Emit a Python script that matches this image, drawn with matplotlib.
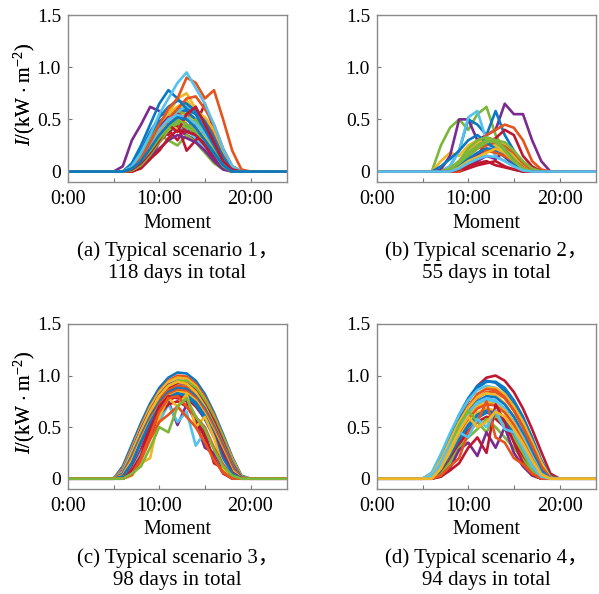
import numpy as np
import matplotlib
matplotlib.use("Agg")
import matplotlib.pyplot as plt

plt.rcParams['font.family'] = ['Liberation Serif', 'Noto Sans CJK SC']
plt.rcParams['mathtext.fontset'] = 'custom'
plt.rcParams['mathtext.rm'] = 'Liberation Serif'
plt.rcParams['mathtext.it'] = 'Liberation Serif:italic'

# hourly irradiance, kW/m2, hours 5:00 .. 19:00 (night hours are zero)
day_hours = list(range(5, 20))

scen1_days = [
    [0, .05, .30, .45, .62, .58, .50, .40, .35, .30, .20, .10, .03, 0, 0],
    [0, 0, .02, .10, .25, .40, .35, .55, .60, .45, .65, .40, .20, .05, 0],
    [0, 0, .04, .14, .28, .40, .50, .58, .55, .48, .35, .22, .08, 0, 0],
    [0, 0, .05, .15, .30, .45, .55, .70, .75, .60, .45, .28, .10, 0, 0],
    [0, 0, .02, .10, .20, .30, .38, .42, .40, .32, .22, .10, .03, 0, 0],
    [0, 0, .02, .08, .20, .30, .45, .50, .38, .42, .28, .15, .05, 0, 0],
    [0, 0, 0, .05, .15, .35, .40, .30, .45, .35, .25, .12, .03, 0, 0],
    [0, 0, .03, .10, .22, .38, .48, .55, .52, .62, .40, .25, .10, .02, 0],
    [0, 0, .03, .12, .25, .35, .30, .25, .35, .28, .18, .08, .02, 0, 0],
    [0, 0, .02, .10, .22, .32, .48, .60, .65, .55, .48, .30, .12, .02, 0],
    [0, 0, .05, .18, .32, .48, .55, .60, .58, .50, .40, .30, .15, .03, 0],
    [0, 0, 0, .03, .12, .28, .38, .45, .20, .30, .40, .25, .08, 0, 0],
    [0, 0, .02, .06, .15, .22, .30, .35, .32, .28, .20, .10, .02, 0, 0],
    [0, 0, .02, .08, .18, .30, .40, .50, .52, .48, .38, .22, .08, 0, 0],
    [0, 0, 0, .05, .18, .30, .42, .48, .55, .60, .50, .35, .15, .03, 0],
    [0, 0, .02, .10, .25, .42, .55, .62, .68, .58, .52, .40, .20, .05, 0],
    [0, 0, .04, .15, .30, .45, .40, .48, .42, .50, .35, .20, .08, 0, 0],
    [0, 0, 0, .04, .12, .20, .32, .40, .38, .35, .28, .18, .06, 0, 0],
    [0, 0, .03, .12, .28, .42, .52, .55, .45, .38, .30, .15, .04, 0, 0],
    [0, 0, .02, .08, .20, .35, .48, .58, .62, .55, .42, .28, .12, .03, 0],
    [0, 0, .05, .20, .38, .52, .62, .68, .65, .58, .48, .32, .14, .02, 0],
    [0, 0, .02, .08, .22, .38, .50, .60, .70, .72, .60, .45, .22, .05, 0],
    [0, 0, .03, .12, .26, .40, .50, .54, .52, .46, .36, .24, .10, .02, 0],
    [0, 0, .02, .10, .22, .36, .46, .40, .50, .42, .32, .20, .06, 0, 0],
    [0, 0, .01, .06, .16, .28, .40, .46, .42, .38, .30, .20, .10, .02, 0],
    [0, 0, .08, .25, .45, .65, .78, .70, .60, .55, .40, .25, .10, .02, 0],
    [0, 0, .03, .12, .28, .45, .60, .70, .90, .85, .70, .78, .50, .20, .02],
    [0, 0, .05, .18, .35, .55, .70, .85, .95, .80, .65, .45, .22, .05, 0],
    [0, 0, .02, .08, .18, .30, .45, .38, .55, .62, .45, .28, .10, .02, 0],
    [0, 0, .03, .10, .20, .32, .42, .50, .45, .40, .30, .18, .05, 0, 0],
    [0, 0, .03, .10, .22, .35, .45, .52, .50, .42, .30, .18, .06, 0, 0],
]
scen1_colors = "PRGYCPROGYBRPYOYGRPCBOCYGBOCRGB"

scen2_days = [
    [0, 0, .25, .42, .50, .40, .55, .62, .35, .20, .10, .02, 0, 0, 0],
    [0, 0, .10, .18, .15, .25, .30, .32, .25, .15, .05, 0, 0, 0, 0],
    [0, 0, .02, .15, .50, .50, .30, .35, .40, .65, .55, .55, .30, .10, 0],
    [0, 0, 0, .05, .20, .50, .45, .35, .58, .35, .20, .05, 0, 0, 0],
    [0, 0, 0, .05, .20, .52, .58, .30, .15, .10, .05, 0, 0, 0, 0],
    [0, 0, 0, .02, .05, .15, .25, .35, .40, .45, .42, .30, .10, .02, 0],
    [0, 0, 0, 0, 0, .05, .15, .28, .32, .40, .35, .15, .05, 0, 0],
    [0, 0, 0, .03, .10, .20, .28, .32, .30, .25, .15, .05, 0, 0, 0],
    [0, 0, 0, .02, .08, .15, .22, .25, .28, .24, .18, .08, .02, 0, 0],
    [0, 0, .05, .12, .20, .30, .35, .28, .22, .15, .08, .02, 0, 0, 0],
    [0, 0, 0, 0, .05, .15, .22, .28, .30, .22, .12, .04, 0, 0, 0],
    [0, 0, 0, 0, .02, .05, .10, .15, .12, .20, .10, .03, 0, 0, 0],
    [0, 0, 0, 0, .04, .10, .16, .22, .20, .14, .06, .01, 0, 0, 0],
    [0, 0, 0, 0, 0, .03, .06, .08, .10, .05, .02, 0, 0, 0, 0],
    [0, 0, 0, 0, .05, .12, .18, .22, .20, .15, .08, .02, 0, 0, 0],
    [0, 0, 0, .03, .10, .22, .30, .33, .30, .28, .20, .10, .03, 0, 0],
    [0, 0, 0, 0, 0, .08, .12, .20, .18, .15, .10, .04, 0, 0, 0],
    [0, 0, 0, 0, .04, .10, .14, .18, .22, .18, .10, .03, 0, 0, 0],
    [0, 0, 0, .02, .08, .18, .25, .30, .28, .20, .10, .03, 0, 0, 0],
    [0, 0, 0, 0, .02, .05, .08, .10, .06, .04, .02, 0, 0, 0, 0],
    [0, 0, 0, 0, .03, .08, .12, .15, .14, .10, .05, .01, 0, 0, 0],
]
scen2_colors = "GYPBCORYOBGPPRBGOYGRC"

scen3_days = [
    [0, .12, .33, .54, .73, .88, .98, 1.03, 1.02, .95, .82, .64, .43, .21, .03],
    [0, .10, .30, .51, .70, .85, .95, 1.00, .99, .92, .79, .62, .41, .20, .02],
    [0, .09, .29, .50, .69, .84, .94, .98, .97, .90, .77, .60, .40, .19, .02],
    [0, .08, .27, .48, .66, .81, .91, .95, .94, .87, .75, .58, .38, .17, .01],
    [0, .05, .24, .45, .64, .80, .90, .95, .95, .88, .76, .60, .40, .18, .02],
    [0, .07, .26, .46, .64, .78, .88, .92, .91, .84, .72, .55, .36, .16, .01],
    [0, .03, .20, .42, .62, .78, .88, .93, .92, .85, .72, .56, .36, .15, .01],
    [0, .06, .24, .44, .62, .76, .86, .90, .89, .82, .70, .53, .34, .14, 0],
    [0, .06, .25, .46, .65, .80, .90, .94, .92, .84, .70, .52, .32, .12, 0],
    [0, .05, .22, .42, .60, .74, .84, .88, .87, .80, .68, .51, .32, .12, 0],
    [0, .04, .20, .40, .58, .72, .82, .86, .85, .78, .66, .49, .30, .10, 0],
    [0, .03, .18, .38, .56, .70, .80, .84, .83, .76, .63, .46, .27, .08, 0],
    [0, .02, .15, .35, .53, .68, .78, .82, .81, .74, .61, .44, .25, .06, 0],
    [0, 0, .10, .28, .50, .66, .76, .80, .78, .70, .58, .42, .24, .06, 0],
    [0, .02, .15, .36, .55, .70, .79, .83, .80, .72, .58, .40, .20, .05, 0],
    [0, 0, .05, .20, .45, .62, .75, .52, .72, .55, .30, .25, .10, .02, 0],
    [0, 0, .08, .25, .40, .55, .72, .55, .65, .32, .45, .30, .12, .02, 0],
    [0, 0, .05, .22, .48, .70, .80, .78, .75, .60, .45, .15, .10, 0, 0],
    [0, 0, .08, .22, .42, .62, .72, .75, .70, .58, .40, .20, .05, 0, 0],
    [0, 0, .03, .15, .20, .60, .78, .70, .82, .50, .60, .40, .10, .02, 0],
    [0, 0, .04, .18, .38, .55, .62, .70, .60, .50, .35, .18, .06, 0, 0],
    [0, 0, .04, .20, .42, .65, .78, .80, .70, .60, .50, .30, .14, .02, 0],
    [0, 0, .05, .12, .30, .50, .45, .70, .78, .60, .48, .28, .12, .03, 0],
]
scen3_colors = "BOYPGCROYBOYBRBPCRRYOOG"

scen4_days = [
    [0, .03, .18, .38, .58, .75, .90, .98, 1.00, .95, .84, .68, .48, .26, .05],
    [0, .05, .22, .42, .62, .78, .90, .95, .93, .85, .72, .55, .34, .14, 0],
    [0, .04, .20, .40, .60, .76, .88, .94, .94, .88, .76, .60, .40, .18, .02],
    [0, .06, .24, .44, .62, .76, .86, .90, .88, .80, .67, .50, .30, .10, 0],
    [0, .02, .16, .35, .54, .70, .82, .88, .88, .82, .70, .55, .36, .16, .01],
    [0, .02, .16, .36, .55, .70, .82, .87, .86, .79, .66, .50, .31, .12, 0],
    [0, 0, .12, .30, .50, .66, .78, .84, .84, .78, .66, .50, .32, .12, 0],
    [0, .03, .18, .37, .55, .69, .79, .83, .81, .73, .60, .43, .24, .06, 0],
    [0, 0, .12, .30, .49, .64, .75, .80, .79, .72, .60, .44, .26, .08, 0],
    [0, .02, .14, .32, .50, .64, .74, .78, .76, .68, .55, .40, .22, .05, 0],
    [0, .02, .15, .33, .50, .63, .72, .76, .74, .66, .53, .37, .19, .03, 0],
    [0, 0, .10, .26, .45, .60, .70, .74, .72, .66, .54, .38, .20, .04, 0],
    [0, 0, .10, .27, .44, .58, .68, .72, .71, .64, .52, .36, .19, .04, 0],
    [0, 0, .08, .24, .40, .54, .64, .68, .66, .59, .47, .32, .15, .02, 0],
    [0, 0, .06, .20, .38, .52, .62, .66, .64, .56, .44, .28, .12, .02, 0],
    [0, 0, .06, .20, .36, .50, .59, .64, .62, .55, .43, .28, .12, 0, 0],
    [0, 0, .05, .18, .33, .46, .55, .60, .58, .50, .38, .22, .08, 0, 0],
    [0, 0, .10, .30, .52, .66, .55, .45, .62, .50, .40, .25, .08, 0, 0],
    [0, 0, .04, .16, .30, .40, .48, .58, .50, .40, .30, .18, .06, 0, 0],
    [0, 0, .02, .10, .28, .35, .22, .45, .30, .50, .25, .12, .03, 0, 0],
    [0, 0, .02, .08, .15, .30, .40, .25, .72, .55, .35, .15, .04, 0, 0],
    [0, 0, .03, .12, .20, .45, .55, .75, .40, .35, .20, .14, .05, 0, 0],
    [0, .02, .14, .30, .45, .40, .58, .50, .66, .48, .45, .30, .12, .02, 0],
    [0, 0, .10, .28, .46, .60, .50, .55, .65, .60, .48, .34, .18, .04, 0],
]
scen4_colors = "RBBCYOOYBCCYOYBBRGGPROCY"

captions = [
    "(a) Typical scenario 1，\n118 days in total",
    "(b) Typical scenario 2，\n55 days in total",
    "(c) Typical scenario 3，\n98 days in total",
    "(d) Typical scenario 4，\n94 days in total",
]
x_ticks = [0, 5, 10, 15, 20]
x_tick_labels = ["0:00", "", "10:00", "", "20:00"]
y_ticks = [0, 0.5, 1.0, 1.5]
y_tick_labels = ["0", "0.5", "1.0", "1.5"]

palette = {
    "B": "#0a78c4", "O": "#e4541c", "Y": "#f0b623", "P": "#7b2a8e",
    "G": "#7cb63a", "C": "#55c2ee", "R": "#bf1730",
}

W, H = 599, 594
fig = plt.figure(figsize=(W / 100, H / 100), dpi=100)

# axes boxes in pixels: left, top, right, bottom
boxes = [(68, 15, 287, 182), (377, 15, 596, 182),
         (68, 324, 287, 489), (377, 324, 596, 489)]
all_days = [scen1_days, scen2_days, scen3_days, scen4_days]
all_colors = [scen1_colors, scen2_colors, scen3_colors, scen4_colors]

hours = np.arange(0, 25)
for box, days, cols, cap in zip(boxes, all_days, all_colors, captions):
    l, t, r, b = box
    ax = fig.add_axes([l / W, 1 - b / H, (r - l) / W, (b - t) / H])
    for vals, c in zip(days, cols):
        series = np.zeros(len(hours))
        series[day_hours[0]:day_hours[-1] + 1] = vals
        ax.plot(hours, series, color=palette[c], lw=1.9, solid_joinstyle="round")
    ax.set_xlim(0, 24)
    ax.set_ylim(-0.1, 1.5)
    ax.set_xticks(x_ticks)
    ax.set_xticklabels(x_tick_labels)
    ax.set_yticks(y_ticks)
    ax.set_yticklabels(y_tick_labels)
    ax.tick_params(direction="in", length=3, width=0.8, color="#777777",
                   labelsize=14.5, pad=6)
    ax.tick_params(axis="y", labelsize=14, pad=5)
    for s in ax.spines.values():
        s.set_color("#8a8a8a")
        s.set_linewidth(1.0)
    cx = (l + r) / 2 / W
    fig.text(24 / W, 1 - ((t + b) / 2 - 4) / H,
             r"$\mathit{I}$/(kW $\cdot$ m$^{-2}$)",
             rotation=90, ha="center", va="center", fontsize=14.5)
    fig.text(cx, 1 - (b + 41) / H, "Moment", ha="center", va="center", fontsize=14.5)
    fig.text(cx, 1 - (b + 80) / H, cap, ha="center", va="center", fontsize=15,
             linespacing=1.2)

fig.savefig("out.png", dpi=100)
